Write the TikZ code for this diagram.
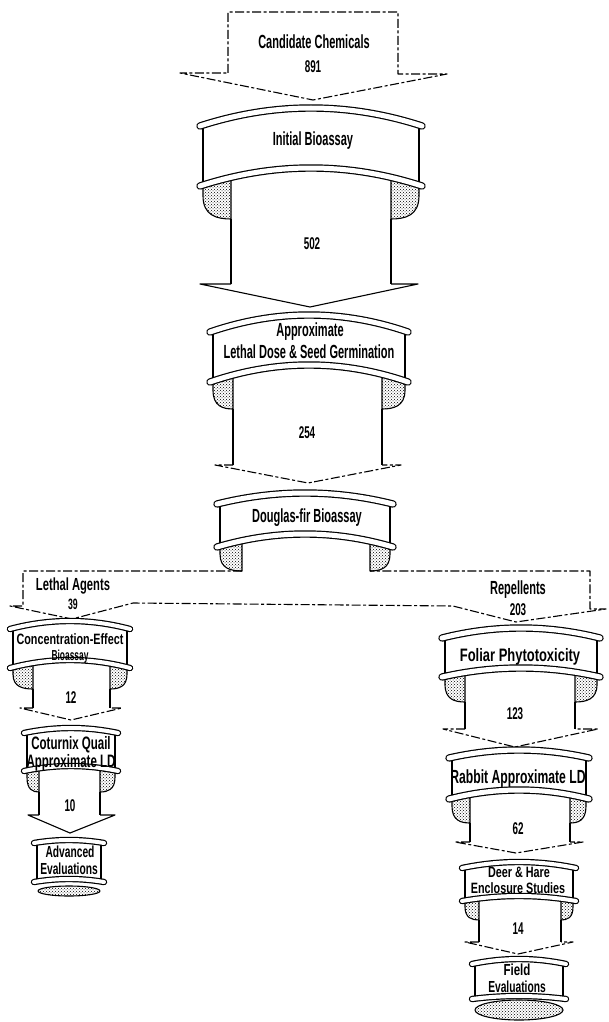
\documentclass[tikz,border=0pt]{standalone}
\usepackage{fontspec}
\usetikzlibrary{patterns}
\newfontfamily\fA{Liberation Sans}[FakeStretch=0.58]
\newfontfamily\fB{Liberation Sans}[FakeStretch=0.64]
\newfontfamily\fC{Liberation Sans}[FakeStretch=0.72]

\tikzset{
  outline/.style={line width=1.1pt, line join=round},
  scan/.style={outline, dash pattern=on 9pt off 2.5pt on 3pt off 2.5pt},
  stipple/.style={outline, pattern=crosshatch dots, pattern color=black},
  lab/.style n args={3}{font=#1\fontsize{#2}{#2}\selectfont\bfseries, inner sep=0pt, text depth=0pt, text height=#3},
}

% rim band: cx, W, y, rise, thickness
\newcommand\rimband[5]{%
  \draw[line width={#5pt+2.4pt}, line cap=round]
    ({#1-#2-3},{#3}) .. controls ({#1-(#2+3)/3},{#3-4*#4/3}) and ({#1+(#2+3)/3},{#3-4*#4/3}) .. ({#1+#2+3},{#3});
  \draw[white, line width={#5pt}, line cap=round]
    ({#1-#2-3},{#3}) .. controls ({#1-(#2+3)/3},{#3-4*#4/3}) and ({#1+(#2+3)/3},{#3-4*#4/3}) .. ({#1+#2+3},{#3});
}
% banner: cx, W, t, ht, b, hb, r
\newcommand\banner[7]{%
  \draw[outline] ({#1-#2},{#3}) -- ({#1-#2},{#5});
  \draw[outline] ({#1+#2},{#3}) -- ({#1+#2},{#5});
  \rimband{#1}{#2}{#3}{#4}{#7}
  \rimband{#1}{#2}{#5}{#6}{#7}
}
% curl: cx, W, b, hb, c, d, side
\newcommand\curl[7]{%
  \draw[stipple] ({#1+(#7)*#2},{#3}) -- ({#1+(#7)*#2},{#3+0.3*#6})
    .. controls ({#1+(#7)*#2},{#3+0.9*#6}) and ({#1+(#7)*(#2-0.5*#5)},{#3+#6}) .. ({#1+(#7)*(#2-#5)},{#3+#6})
    -- ({#1+(#7)*(#2-#5)},{#3-#4*(1-((#2-#5)/(#2+3))^2)}) -- cycle;
}
% block arrow: xl, xr, ytop, s, hl, hr, tipx, tipy, head style
\newcommand\blockarrow[9]{%
  \draw[outline] (#1,#3) -- (#1,#4);
  \draw[outline] (#2,#3) -- (#2,#4);
  \draw[#9] (#1,#4) -- (#5,#4) -- (#7,#8) -- (#6,#4) -- (#2,#4);
}

\begin{document}
\begin{tikzpicture}[x=1pt,y=-1pt]
\useasboundingbox (0,0) rectangle (608,1022);
\fill[white] (0,0) rectangle (608,1022);

% Candidate chemicals
\draw[scan] (228,73) -- (228,12) -- (398,12) -- (398,74) -- (447,74) -- (313,100) -- (180,73) -- cycle;

% Initial bioassay
\curl{311}{108}{186}{18}{28}{33}{-1}
\curl{311}{108}{186}{18}{28}{33}{1}
\blockarrow{231}{391}{219}{284}{200}{418}{310}{307}{outline}
\banner{311}{108}{126}{18}{186}{18}{5}

% Approximate lethal dose
\curl{309}{96}{382}{17}{20}{27}{-1}
\curl{309}{96}{382}{17}{23}{27}{1}
\blockarrow{233}{382}{409}{465}{215}{401}{308}{483}{scan}
\banner{309}{96}{332}{17}{382}{17}{5}

% Douglas-fir
\curl{305}{85}{547}{13}{22}{24}{-1}
\curl{305}{85}{547}{13}{20}{24}{1}
\draw[scan] (242,571) -- (23,571) -- (23,606) -- (10,606) -- (72,619) -- (133,603) -- (453,606) -- (516,622) -- (606,609) -- (590,609) -- (590,571) -- (370,571);
\banner{305}{85}{504}{11}{547}{13}{5}

% Concentration-effect
\curl{70}{57}{668}{8}{20}{21}{-1}
\curl{70}{57}{668}{8}{17}{21}{1}
\blockarrow{33}{110}{689}{708}{20}{122}{71}{720}{scan}
\banner{70}{57}{629}{8}{668}{8}{4}

% Coturnix quail
\curl{71}{44}{771}{5}{12}{21}{-1}
\curl{71}{44}{771}{5}{15}{21}{1}
\blockarrow{39}{100}{792}{815}{28}{115}{70}{833}{outline}
\banner{71}{44}{733}{5}{771}{5}{4}

% Advanced evaluations
\draw[stipple] (69,891) ellipse [x radius=31, y radius=5];
\banner{69}{32}{843}{3}{882}{3}{4}

% Foliar phytotoxicity
\curl{521}{76}{677}{9}{20}{25}{-1}
\curl{521}{76}{677}{9}{22}{25}{1}
\blockarrow{465}{575}{702}{729}{443}{598}{515}{747}{scan}
\banner{521}{76}{638}{10}{677}{9}{5}

% Rabbit
\curl{519}{67}{799}{9}{18}{24}{-1}
\curl{519}{67}{799}{9}{16}{24}{1}
\blockarrow{470}{570}{823}{842}{455}{583}{516}{853}{scan}
\banner{519}{67}{758}{8}{799}{9}{5}

% Deer & hare
\curl{519}{54}{901}{5}{14}{19}{-1}
\curl{519}{54}{901}{5}{12}{19}{1}
\blockarrow{479}{561}{920}{942}{465}{573}{518}{954}{scan}
\banner{519}{54}{868}{6}{901}{5}{4}

% Field evaluations
\draw[stipple] (519,1010) ellipse [x radius=44, y radius=10];
\banner{519}{44}{964}{5}{999}{3}{4}

% Labels
\node[lab={\fA}{19}{13.7pt}] (cand) at (314,42) {Candidate Chemicals};
\node[lab={\fA}{17}{12.2pt}] (candN) at (313,66) {891};
\node[lab={\fA}{19}{13.7pt}] (init) at (313,139) {Initial Bioassay};
\node[lab={\fA}{17}{12.2pt}] (n502) at (312,243) {502};
\node[lab={\fA}{19}{13.7pt}] (appr1) at (310,330) {Approximate};
\node[lab={\fA}{19}{13.7pt}] (appr2) at (309,352) {Lethal Dose \& Seed Germination};
\node[lab={\fA}{17}{12.2pt}] (n254) at (307,432) {254};
\node[lab={\fA}{19}{13.7pt}] (doug) at (307,516) {Douglas-fir Bioassay};
\node[lab={\fB}{17.5}{12.6pt}] (leth) at (73,584) {Lethal Agents};
\node[lab={\fA}{15}{10.8pt}] (n39) at (73,604) {39};
\node[lab={\fA}{19}{13.7pt}] (rep) at (518,588) {Repellents};
\node[lab={\fA}{17}{12.2pt}] (n203) at (518,609) {203};
\node[lab={\fC}{15}{10.8pt}] (ce1) at (70,639) {Concentration-Effect};
\node[lab={\fA}{14.5}{10.4pt}] (ce2) at (70,655) {Bioassay};
\node[lab={\fA}{17}{12.2pt}] (n12) at (71,697) {12};
\node[lab={\fB}{18}{13pt}] (cq1) at (71,743) {Coturnix Quail};
\node[lab={\fB}{18}{13pt}] (cq2) at (71,761) {Approximate LD};
\node[lab={\fA}{17}{12.2pt}] (n10) at (70,805) {10};
\node[lab={\fB}{16}{11.5pt}] (ae1) at (70,852) {Advanced};
\node[lab={\fB}{16}{11.5pt}] (ae2) at (69,869) {Evaluations};
\node[lab={\fC}{18}{13pt}] (fp) at (520,655) {Foliar Phytotoxicity};
\node[lab={\fA}{17}{12.2pt}] (n123) at (515,713) {123};
\node[lab={\fB}{19}{13.7pt}] (ra) at (518,777) {Rabbit Approximate LD};
\node[lab={\fA}{17}{12.2pt}] (n62) at (518,828) {62};
\node[lab={\fC}{15}{10.8pt}] (dh1) at (519,872) {Deer \& Hare};
\node[lab={\fC}{15}{10.8pt}] (dh2) at (518,888) {Enclosure Studies};
\node[lab={\fA}{17}{12.2pt}] (n14) at (518,928) {14};
\node[lab={\fC}{16}{11.5pt}] (fe1) at (517,970) {Field};
\node[lab={\fB}{16}{11.5pt}] (fe2) at (517,987) {Evaluations};
\end{tikzpicture}
\end{document}
